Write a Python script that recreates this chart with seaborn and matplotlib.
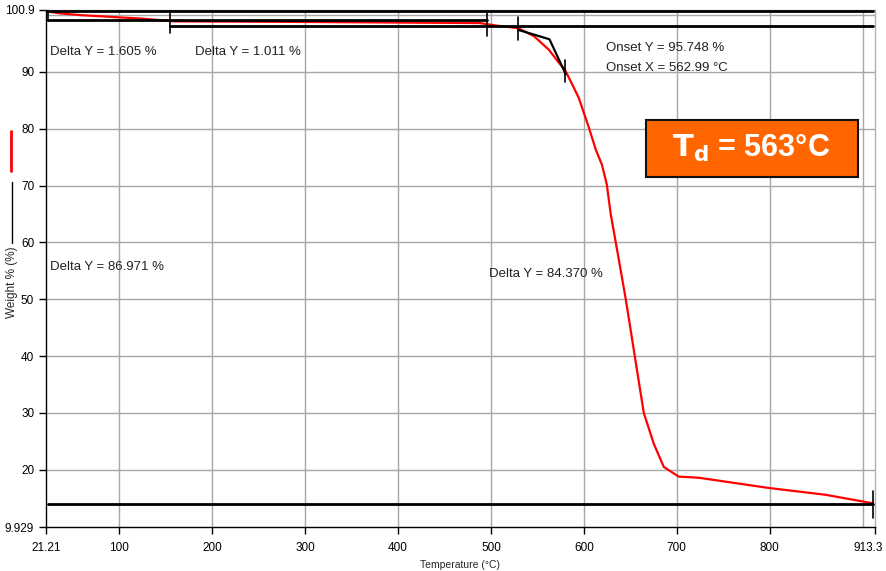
import matplotlib
matplotlib.use("Agg")
import matplotlib.pyplot as plt
import matplotlib.transforms as mtransforms
import seaborn as sns
import pandas as pd
from matplotlib.lines import Line2D
from matplotlib.patches import Rectangle

# ---- data ----
temperature = [21.2, 36.6, 58, 79.6, 100, 122.6, 160, 295, 488, 504, 529.5, 546.3, 562.4,
               573.2, 579.6, 589.3, 594.6, 605.4, 612.9, 619.4, 624.7, 629, 637.6, 645.1,
               654.8, 664.5, 675.2, 686, 702, 723.5, 798.8, 860, 911]
weight = [100.7, 100.3, 100.0, 99.8, 99.6, 99.4, 98.9, 98.8, 98.6, 98.2, 97.7, 96.3, 93.9,
          91.6, 90.4, 87.2, 85.4, 80.2, 76.3, 73.7, 70.2, 64.9, 57.0, 50.0,
          40.0, 30.0, 24.6, 20.5, 18.8, 18.6, 16.8, 15.6, 14.1]

x_ticks = [21.21, 100, 200, 300, 400, 500, 600, 700, 800, 913.3]
x_tick_labels = ["21.21", "100", "200", "300", "400", "500", "600", "700", "800", "913.3"]
y_ticks = [9.929, 20, 30, 40, 50, 60, 70, 80, 90, 100.9]
y_tick_labels = ["9.929", "20", "30", "40", "50", "60", "70", "80", "90", "100.9"]
x_grid = [100, 200, 300, 400, 500, 600, 700, 800, 900]
y_grid = [20, 30, 40, 50, 60, 70, 80, 90, 100]

# step-analysis horizontal lines: (x_start, x_end, level)
step_levels = [(21.21, 911, 100.7), (23, 496, 99.2), (155, 911, 98.15), (23, 911, 13.9)]
# vertical step markers: (x, y_low, y_high)
markers = [(23, 98.9, 100.8), (155, 96.9, 100.9), (495.6, 96.4, 100.5),
           (529, 95.6, 99.6), (579.6, 88.2, 92.1), (911, 11.5, 16.2)]
# onset tangent construction
onset_x = [529.5, 562.99, 580.5]
onset_y = [97.4, 95.748, 89.6]

annotations = [
    (25, 93.5, "Delta Y = 1.605 %"),
    (182, 93.5, "Delta Y = 1.011 %"),
    (25, 55.6, "Delta Y = 86.971 %"),
    (498, 54.4, "Delta Y = 84.370 %"),
    (624, 94.2, "Onset Y = 95.748 %"),
    (624, 90.7, "Onset X = 562.99 \u00b0C"),
]

sns.set_style("white")
plt.rcParams["font.family"] = ["Liberation Sans", "DejaVu Sans"]

fig = plt.figure(figsize=(8.86, 5.71), dpi=100)
ax = fig.add_axes([46 / 886, 1 - 527 / 571, 829 / 886, 517 / 571])

for gx in x_grid:
    ax.axvline(gx, color="#a8a8a8", lw=1, zorder=0)
for gy in y_grid:
    ax.axhline(gy, color="#a8a8a8", lw=1, zorder=0)

df = pd.DataFrame({"Temperature": temperature, "Weight": weight})
sns.lineplot(data=df, x="Temperature", y="Weight", ax=ax, color="#ff0000", lw=1.6,
             zorder=3, sort=False)

for x0, x1, lev in step_levels:
    ax.plot([x0, x1], [lev, lev], color="black", lw=2, zorder=4)
for xm, y0, y1 in markers:
    ax.plot([xm, xm], [y0, y1], color="black", lw=1.2, zorder=5)
ax.plot(onset_x, onset_y, color="black", lw=1.6, zorder=4)

for tx, ty, s in annotations:
    ax.text(tx, ty, s, fontsize=9.5, color="#222222", ha="left", va="center")

ax.set_xlim(21.21, 913.3)
ax.set_ylim(9.929, 100.9)
ax.set_xticks(x_ticks)
ax.set_xticklabels(x_tick_labels)
ax.set_yticks(y_ticks)
ax.set_yticklabels(y_tick_labels)
ax.grid(False)
ax.tick_params(axis="both", which="major", labelsize=8.5, length=5, width=1,
               direction="out", colors="black", bottom=True, left=True)
ax.tick_params(axis="x", pad=6)
ax.set_xlabel("Temperature (\u00b0C)", fontsize=7.5, labelpad=4)
ax.set_ylabel("")
for side in ["left", "bottom"]:
    ax.spines[side].set_color("black")
    ax.spines[side].set_linewidth(1)
for side in ["top", "right"]:
    ax.spines[side].set_color("#b0b0b0")
    ax.spines[side].set_linewidth(1)

# keep the last x tick label inside the figure
last = ax.get_xticklabels()[-1]
last.set_transform(last.get_transform() +
                   mtransforms.ScaledTranslation(-0.07, 0, fig.dpi_scale_trans))

# y-axis label with legend line samples
fig.text(12 / 886, 1 - 282 / 571, "Weight % (%)", rotation=90, fontsize=8.5,
         ha="center", va="center")
fig.add_artist(Line2D([12 / 886, 12 / 886], [1 - 243 / 571, 1 - 182 / 571],
                      color="black", lw=1, transform=fig.transFigure))
fig.add_artist(Line2D([11 / 886, 11 / 886], [1 - 171 / 571, 1 - 131 / 571],
                      color="#ff0000", lw=2, transform=fig.transFigure))

# orange Td box
fig.add_artist(Rectangle((646 / 886, 1 - 177 / 571), 212 / 886, 57 / 571,
                         facecolor="#ff6600", edgecolor="#111111", lw=1.5,
                         transform=fig.transFigure, zorder=10))
fig.text(751 / 886, 1 - 148 / 571, r"$\mathbf{T_d}$" + " = 563\u00b0C", fontsize=22,
         fontweight="bold", color="white", ha="center", va="center", zorder=11)

fig.savefig("out.png", dpi=100)
